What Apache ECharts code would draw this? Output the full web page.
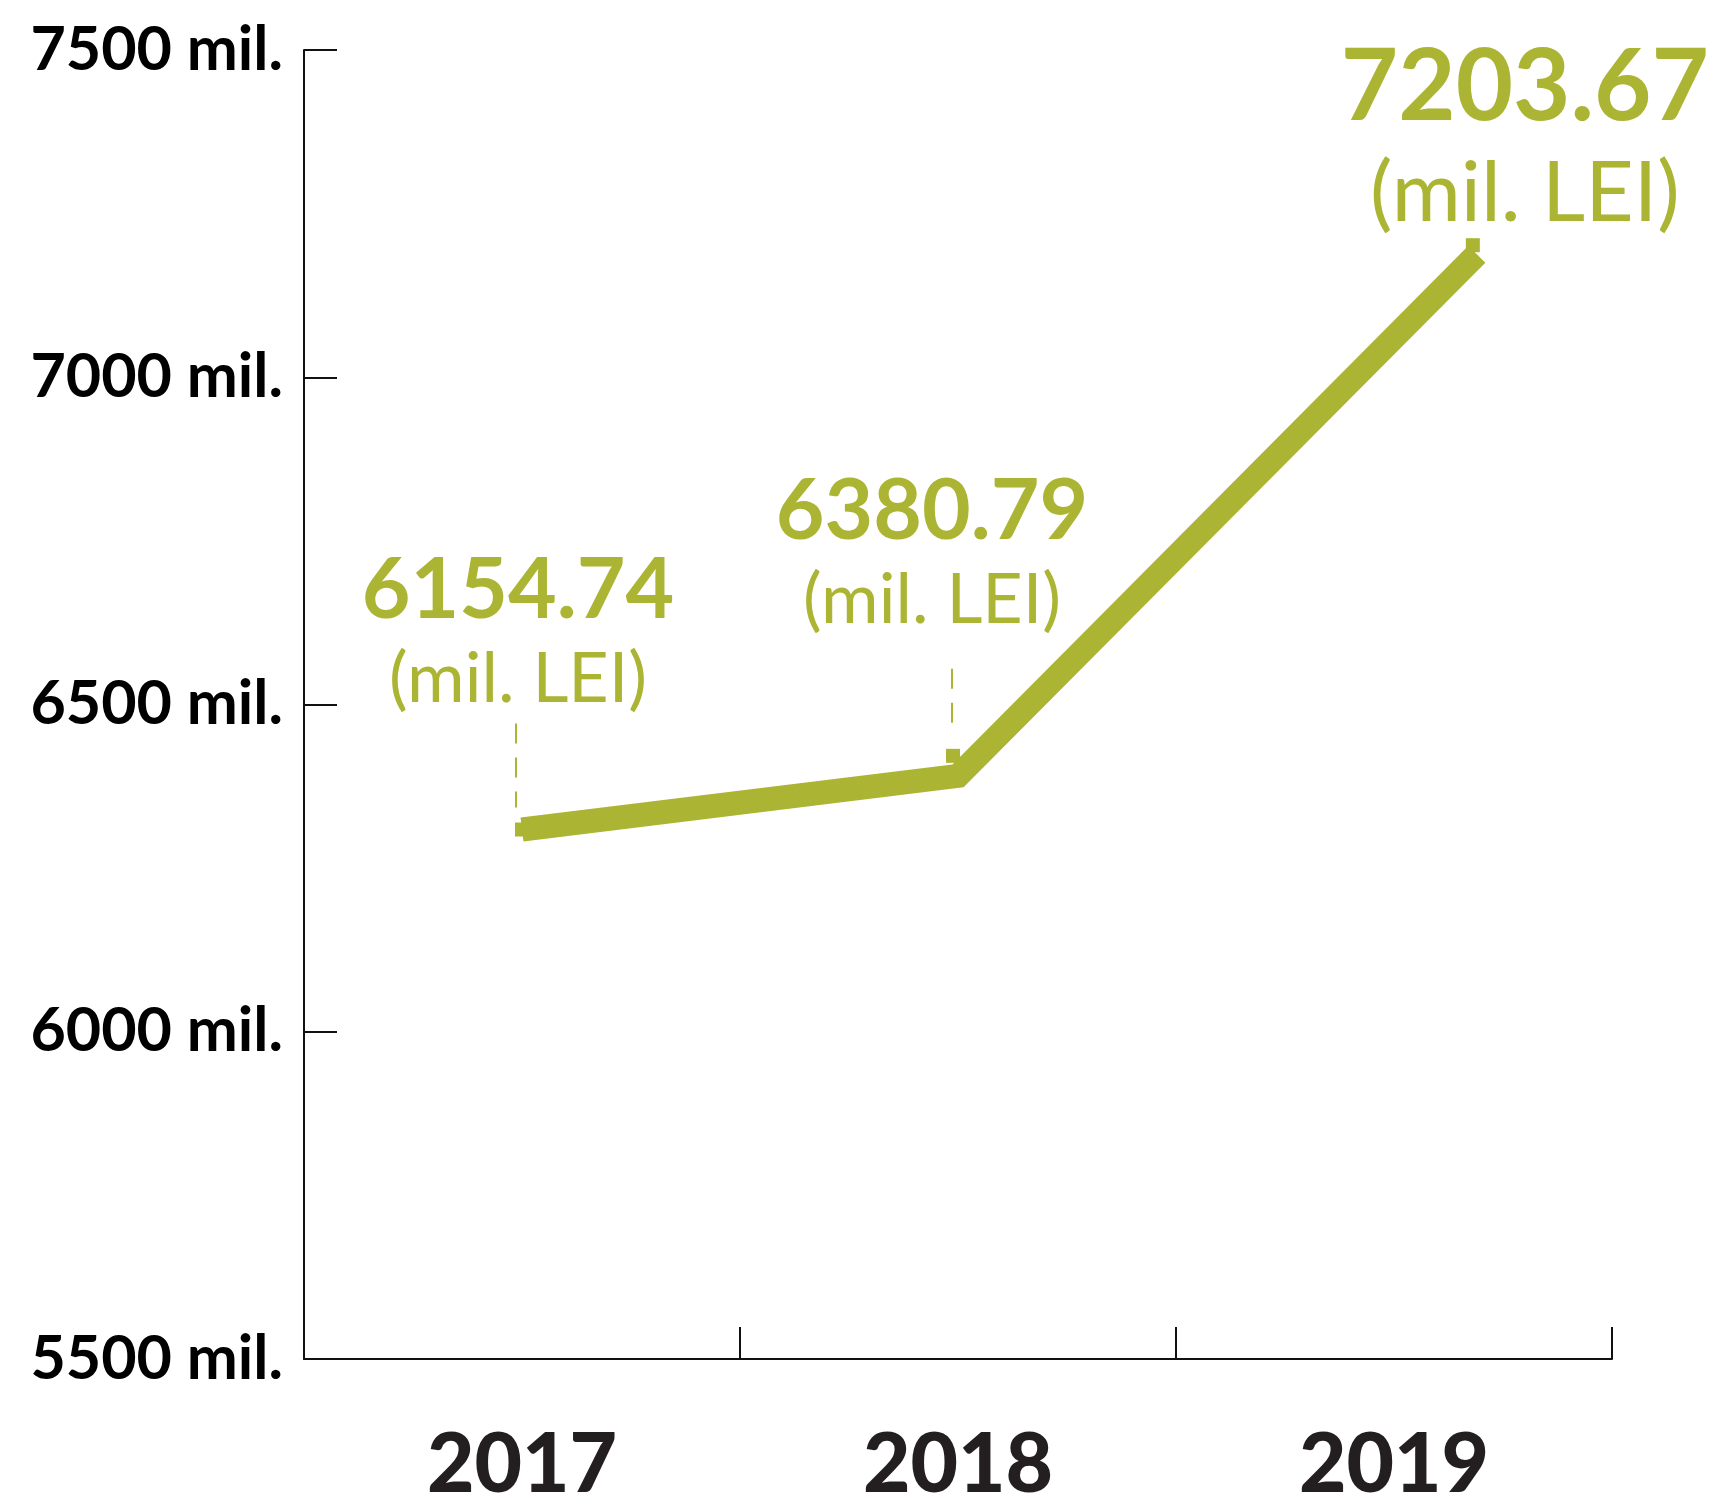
<!DOCTYPE html>
<html>
<head>
<meta charset="utf-8">
<script src="https://cdn.jsdelivr.net/npm/echarts@6/dist/echarts.min.js"></script>
<style>
  html, body { margin: 0; padding: 0; background: #fff; }
  #chart { width: 1718px; height: 1498px; }
</style>
</head>
<body>
<div id="chart"></div>
<script>
const categories = ["2017", "2018", "2019"];
const valueLabels = ["6154.74", "6380.79", "7203.67"];
const unitLabel = "(mil. LEI)";
// where the line is drawn in the picture (x in category units, y in mil.)
const lineX = [0.5, 1.5, 2.69];
const lineY = [6309, 6391, 7188];
const yMin = 5500, yMax = 7500, yStep = 500;

const GREEN = "#abb533";
const FONT = "Lato, 'Noto Sans', sans-serif";

// per-point annotation layout (pixel offsets from the point)
const notes = [
    { dx: -4, numDy: -239, numSize: 84, unitDy: -150, unitSize: 70, dashX: -6, dashTop: -106, dashBottom: -22, rect: [-7, -7] },
    { dx: -26, numDy: -264, numSize: 84, unitDy: -175, unitSize: 70, dashX: -6, dashTop: -107, dashBottom: -52, rect: [-12, -27] },
    { dx: 48, numDy: -166, numSize: 99, unitDy: -60, unitSize: 84, dashX: 0, dashTop: 0, dashBottom: 0, rect: [-11, -16] },
];

const points = lineX.map((x, i) => [x, lineY[i]]);

function renderNote(params, api) {
    const p = api.coord([api.value(0), api.value(1)]);
    const n = notes[params.dataIndex];
    const children = [];
    if (n.dashTop !== n.dashBottom) {
        children.push({
            type: "line",
            shape: { x1: p[0] + n.dashX, y1: p[1] + n.dashTop, x2: p[0] + n.dashX, y2: p[1] + n.dashBottom },
            style: { stroke: GREEN, lineWidth: 2, lineDash: [20, 14] },
        });
    }
    children.push({
        type: "rect",
        shape: { x: p[0] + n.rect[0], y: p[1] + n.rect[1], width: 14, height: 14 },
        style: { fill: GREEN },
    });
    children.push({
        type: "text",
        style: {
            text: valueLabels[params.dataIndex],
            x: p[0] + n.dx, y: p[1] + n.numDy,
            fill: GREEN, align: "center", verticalAlign: "middle",
            fontFamily: FONT, fontWeight: "bold", fontSize: n.numSize,
        },
    });
    children.push({
        type: "text",
        style: {
            text: unitLabel,
            x: p[0] + n.dx, y: p[1] + n.unitDy,
            fill: GREEN, align: "center", verticalAlign: "middle",
            fontFamily: FONT, fontWeight: "normal", fontSize: n.unitSize,
        },
    });
    return { type: "group", children };
}

const chart = echarts.init(document.getElementById("chart"));

chart.setOption({
    backgroundColor: "#fff",
    animation: false,
    grid: { left: 304, right: 106, top: 50, bottom: 139, outerBoundsMode: "none", containLabel: false },
    xAxis: [
        {
            type: "category",
            data: categories,
            boundaryGap: true,
            axisLine: { lineStyle: { color: "#111", width: 2 } },
            axisTick: { show: true, inside: true, length: 32, lineStyle: { color: "#111", width: 2 } },
            axisLabel: {
                margin: 66,
                color: "#231f20",
                fontFamily: FONT,
                fontWeight: 900,
                fontSize: 82,
            },
        },
        { type: "value", min: 0, max: 3, show: false },
    ],
    yAxis: {
        type: "value",
        min: yMin,
        max: yMax,
        interval: yStep,
        splitLine: { show: false },
        axisLine: { show: true, lineStyle: { color: "#111", width: 2 } },
        axisTick: { show: true, inside: true, length: 33, lineStyle: { color: "#111", width: 2 } },
        axisLabel: {
            margin: 21,
            color: "#000",
            fontFamily: FONT,
            fontWeight: "bold",
            fontSize: 61,
            formatter: (v) => v + " mil.",
        },
    },
    series: [
        {
            type: "custom",
            xAxisIndex: 1,
            data: points,
            renderItem: renderNote,
            clip: false,
            z: 1,
        },
        {
            type: "line",
            xAxisIndex: 1,
            data: points,
            showSymbol: false,
            lineStyle: { color: GREEN, width: 24, cap: "butt", join: "miter" },
            z: 2,
        },
    ],
});
</script>
</body>
</html>
